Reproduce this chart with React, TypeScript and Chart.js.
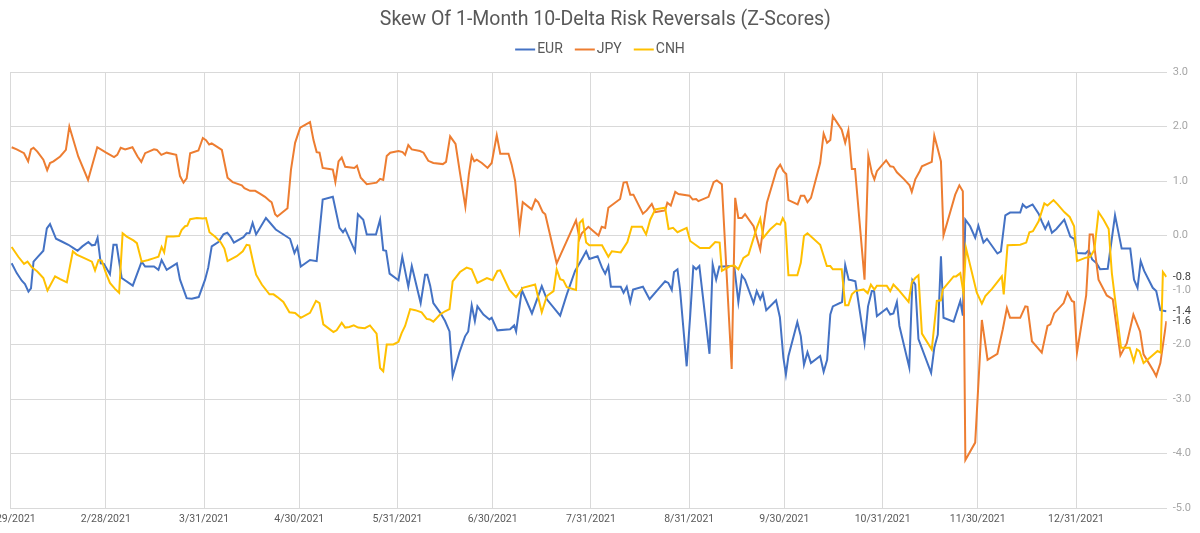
import React, { useEffect, useRef } from "react";
import { Chart, registerables } from "chart.js";

Chart.register(...registerables);

const TITLE = "Skew Of 1-Month 10-Delta Risk Reversals (Z-Scores)";

// x = days since 1/29/2021
const TICK_DAYS = [0, 30, 61, 91, 122, 152, 183, 214, 244, 275, 305, 336];
const TICK_LABELS = [
  "1/29/2021", "2/28/2021", "3/31/2021", "4/30/2021", "5/31/2021", "6/30/2021",
  "7/31/2021", "8/31/2021", "9/30/2021", "10/31/2021", "11/30/2021", "12/31/2021",
];
const Y_TICKS = [-5, -4, -3, -2, -1, 0, 1, 2, 3];
const X_LAST_DAY = 364.6;

const EUR_POINTS = [
  [0.3, -0.51], [1.9, -0.69], [3.5, -0.83], [4.5, -0.89], [5.6, -1.03], [6.4, -0.97], [7.2, -0.48],
  [8.4, -0.4], [10.3, -0.28], [11.4, 0.13], [12.4, 0.21], [14.3, -0.06], [16.1, -0.11], [18.2, -0.17],
  [19.8, -0.23], [21.1, -0.28], [22.6, -0.2], [24.5, -0.12], [25.6, -0.18], [26.6, -0.17], [27.4, -0.04],
  [28.4, -0.51], [29.4, -0.52], [31.3, -0.71], [32.4, -0.17], [33.4, -0.17], [35.0, -0.78], [38.5, -0.92],
  [41.3, -0.48], [42.4, -0.57], [45.2, -0.57], [46.6, -0.63], [47.6, -0.45], [49.2, -0.63], [52.4, -0.51],
  [53.4, -0.81], [55.5, -1.15], [57.1, -1.16], [59.3, -1.13], [61.3, -0.81], [62.3, -0.59], [63.4, -0.2],
  [65.5, -0.12], [67.1, 0.02], [68.3, 0.05], [69.2, -0.01], [70.4, -0.13], [73.4, -0.03], [74.4, 0.04],
  [75.3, 0.04], [76.3, 0.23], [77.4, 0.02], [80.5, 0.32], [83.6, 0.11], [86.5, 0.0], [88.1, -0.06],
  [89.5, -0.32], [90.4, -0.21], [91.5, -0.57], [94.4, -0.45], [96.5, -0.47], [98.4, 0.66], [101.6, 0.71],
  [103.7, 0.14], [104.8, 0.06], [105.5, 0.12], [108.6, -0.29], [109.5, 0.39], [111.2, 0.29], [112.3, 0.02],
  [115.2, 0.02], [116.5, 0.29], [117.5, -0.27], [118.4, -0.28], [119.5, -0.7], [122.3, -0.82], [123.5, -0.39],
  [125.4, -0.94], [126.5, -0.56], [129.3, -1.24], [130.7, -0.72], [131.4, -0.72], [132.3, -0.92], [133.3, -1.24],
  [135.4, -1.41], [137.0, -1.57], [138.4, -1.76], [139.4, -2.58], [141.5, -2.15], [143.3, -1.85], [144.3, -1.76],
  [145.4, -1.28], [146.4, -1.57], [147.2, -1.3], [149.1, -1.45], [151.0, -1.54], [151.7, -1.51], [153.5, -1.74],
  [157.5, -1.72], [158.8, -1.65], [159.4, -1.76], [161.2, -1.0], [164.4, -1.43], [167.5, -0.93], [169.1, -1.17],
  [173.3, -1.47], [175.4, -1.08], [178.0, -0.65], [179.6, -0.49], [181.5, -0.29], [182.5, -0.43], [185.1, -0.38],
  [186.5, -0.59], [187.5, -0.7], [188.5, -0.56], [189.3, -0.94], [192.4, -0.94], [193.3, -1.05], [194.3, -0.94],
  [195.4, -1.22], [196.3, -0.99], [199.4, -0.94], [201.5, -1.17], [204.3, -0.98], [206.4, -0.84], [207.4, -0.87],
  [208.5, -1.0], [209.2, -0.67], [210.3, -0.62], [211.1, -0.99], [213.2, -2.4], [214.3, -1.48], [215.3, -0.57],
  [216.2, -0.62], [217.2, -0.56], [220.4, -2.17], [221.4, -0.53], [222.5, -0.81], [223.5, -0.57], [224.8, -0.57],
  [226.9, -0.56], [228.2, -0.56], [229.5, -1.22], [230.6, -0.73], [231.6, -0.81], [234.3, -1.24], [235.3, -1.02],
  [236.4, -1.17], [237.2, -1.06], [238.3, -1.37], [241.4, -1.19], [242.6, -1.5], [243.7, -2.24], [244.5, -2.55],
  [245.3, -2.21], [248.1, -1.59], [249.2, -1.85], [250.2, -2.37], [251.3, -2.14], [252.4, -2.34], [255.3, -2.21],
  [256.4, -2.5], [257.5, -2.28], [258.5, -1.45], [259.3, -1.3], [262.2, -1.22], [263.2, -0.54], [264.3, -0.81],
  [265.3, -0.82], [266.4, -0.84], [269.3, -1.97], [270.4, -1.3], [271.6, -1.02], [272.3, -1.02], [273.2, -1.48],
  [276.3, -1.34], [277.4, -1.45], [278.4, -1.43], [279.5, -1.22], [280.3, -1.66], [283.4, -2.42], [284.4, -0.82],
  [285.3, -0.9], [286.3, -1.9], [290.3, -2.52], [291.3, -2.06], [292.4, -1.82], [293.4, -0.38], [294.2, -1.51],
  [297.4, -1.58], [299.5, -1.2], [300.3, -1.47], [301.1, 0.29], [302.6, 0.17], [304.2, -0.04], [305.2, 0.18],
  [306.8, -0.13], [307.9, -0.06], [311.2, -0.33], [312.3, -0.29], [313.7, 0.37], [315.2, 0.42], [318.4, 0.42],
  [319.2, 0.57], [320.3, 0.51], [322.3, 0.57], [324.2, 0.4], [325.2, 0.26], [326.3, 0.12], [327.3, 0.24],
  [328.4, 0.05], [329.8, 0.12], [332.3, 0.29], [334.2, -0.02], [335.4, -0.06], [336.3, -0.32], [339.0, -0.33],
  [340.0, -0.27], [341.1, -0.44], [342.5, -0.51], [343.6, -0.62], [346.0, -0.61], [348.3, 0.37], [350.4, -0.24],
  [353.1, -0.24], [354.3, -0.81], [355.4, -0.96], [356.4, -0.47], [357.5, -0.65], [360.2, -0.96], [361.3, -1.02],
  [362.6, -1.37], [364.5, -1.39],
];

const JPY_POINTS = [
  [0.3, 1.62], [1.9, 1.58], [4.2, 1.51], [5.5, 1.36], [6.4, 1.58], [7.2, 1.61], [8.4, 1.54], [10.3, 1.39],
  [11.5, 1.2], [12.4, 1.33], [13.5, 1.36], [15.6, 1.45], [17.4, 1.57], [18.5, 2.0], [21.3, 1.45], [24.4, 1.02],
  [27.3, 1.62], [30.1, 1.52], [32.6, 1.44], [33.6, 1.48], [34.7, 1.61], [36.1, 1.58], [38.4, 1.62], [40.0, 1.45],
  [41.2, 1.35], [42.4, 1.51], [45.2, 1.58], [46.1, 1.57], [47.5, 1.48], [49.2, 1.52], [52.2, 1.48], [53.4, 1.09],
  [54.5, 0.97], [55.5, 1.05], [56.6, 1.51], [59.2, 1.56], [60.6, 1.79], [61.6, 1.75], [62.6, 1.67], [63.4, 1.69],
  [65.0, 1.63], [66.6, 1.57], [68.4, 1.06], [70.0, 0.98], [72.9, 0.92], [73.7, 0.87], [75.5, 0.82], [77.1, 0.82],
  [78.6, 0.77], [80.2, 0.71], [81.8, 0.63], [82.3, 0.61], [83.4, 0.39], [84.1, 0.35], [87.3, 0.5], [88.4, 1.21],
  [89.7, 1.7], [91.3, 1.98], [94.4, 2.08], [95.5, 1.75], [96.5, 1.53], [97.4, 1.52], [98.4, 1.24], [100.5, 1.22],
  [101.6, 1.21], [102.4, 0.98], [103.4, 1.36], [104.4, 1.43], [105.5, 1.26], [108.4, 1.24], [109.2, 1.28],
  [110.4, 1.06], [112.3, 0.94], [115.4, 0.97], [116.5, 1.04], [117.5, 1.02], [118.6, 1.46], [119.7, 1.52],
  [122.3, 1.55], [123.6, 1.53], [124.4, 1.48], [125.4, 1.66], [126.5, 1.58], [129.1, 1.55], [130.2, 1.52],
  [131.7, 1.37], [133.3, 1.33], [136.3, 1.31], [137.3, 1.35], [138.6, 1.82], [140.3, 1.68], [141.7, 1.15],
  [143.4, 0.53], [144.5, 1.12], [145.4, 1.46], [146.2, 1.36], [147.0, 1.39], [148.6, 1.33], [150.4, 1.24],
  [151.7, 1.33], [153.3, 1.84], [154.4, 1.5], [157.0, 1.5], [158.0, 1.3], [159.1, 1.0], [160.5, 0.12],
  [161.5, 0.61], [164.3, 0.48], [165.5, 0.66], [166.4, 0.61], [167.8, 0.43], [168.6, 0.39], [172.2, -0.51],
  [175.4, -0.1], [178.3, 0.28], [179.4, -0.06], [180.1, 0.04], [182.2, 0.16], [183.8, 0.08], [185.4, 0.0],
  [186.4, 0.16], [187.5, 0.14], [188.5, 0.51], [192.2, 0.67], [193.3, 0.97], [194.3, 0.98], [195.4, 0.75],
  [196.4, 0.75], [199.4, 0.4], [200.6, 0.46], [202.2, 0.58], [203.3, 0.43], [206.4, 0.46], [207.1, 0.6],
  [208.2, 0.55], [209.6, 0.8], [210.6, 0.76], [214.1, 0.73], [215.1, 0.66], [216.2, 0.67], [216.9, 0.63],
  [220.1, 0.71], [221.7, 0.98], [222.7, 1.01], [224.3, 0.94], [227.4, -2.45], [228.5, 0.69], [229.5, 0.32],
  [230.6, 0.32], [231.6, 0.39], [234.3, 0.17], [236.4, -0.26], [238.5, 0.6], [241.6, 1.21], [242.7, 1.3],
  [243.7, 1.18], [244.6, 1.13], [245.3, 0.65], [248.2, 0.57], [249.2, 0.73], [250.3, 0.73], [251.3, 0.61],
  [252.4, 0.69], [255.3, 1.33], [256.4, 1.87], [257.5, 1.7], [258.5, 1.75], [259.3, 2.19], [262.1, 1.94],
  [263.2, 1.7], [264.2, 1.93], [265.3, 1.22], [266.3, 1.22], [269.3, -0.81], [270.5, 1.46], [271.6, 1.15],
  [272.4, 1.03], [273.2, 1.18], [276.1, 1.38], [277.4, 1.27], [278.4, 1.26], [279.5, 1.16], [281.8, 1.03],
  [283.5, 0.92], [284.2, 0.8], [285.3, 1.03], [286.7, 1.18], [287.4, 1.27], [290.5, 1.35], [291.3, 1.83],
  [292.3, 1.61], [293.4, 1.36], [294.2, 0.0], [297.9, 0.75], [299.2, 0.92], [300.3, 0.81], [301.1, -4.12],
  [304.2, -3.8], [306.3, -1.55], [308.1, -2.28], [311.2, -2.17], [312.9, -1.72], [314.2, -1.33], [315.2, -1.51],
  [318.4, -1.51], [320.0, -1.3], [320.7, -1.31], [322.1, -1.94], [325.2, -2.15], [327.0, -1.66], [327.9, -1.63],
  [329.1, -1.43], [332.1, -1.24], [333.3, -1.04], [334.7, -1.2], [335.4, -1.22], [336.3, -2.15], [339.2, -1.1],
  [340.3, 0.02], [341.3, 0.02], [343.1, -0.81], [345.7, -1.1], [347.6, -1.17], [350.0, -2.2], [352.0, -1.98],
  [354.1, -1.45], [356.2, -1.76], [357.3, -2.18], [360.5, -2.49], [361.3, -2.58], [362.6, -2.34], [364.5, -1.57],
];

const CNH_POINTS = [
  [0.3, -0.21], [2.4, -0.39], [4.2, -0.52], [5.3, -0.48], [6.6, -0.58], [8.4, -0.66], [10.3, -0.78],
  [11.6, -1.01], [14.0, -0.75], [15.6, -0.8], [17.7, -0.86], [19.6, -0.29], [20.8, -0.35], [23.4, -0.42],
  [25.6, -0.48], [26.6, -0.64], [27.7, -0.45], [28.7, -0.46], [30.1, -0.7], [31.3, -0.87], [32.9, -0.98],
  [34.2, -1.05], [35.3, 0.04], [36.6, -0.02], [38.7, -0.09], [39.8, -0.14], [41.3, -0.48], [43.4, -0.45],
  [45.0, -0.42], [46.6, -0.39], [47.6, -0.21], [48.4, -0.31], [49.2, -0.02], [51.3, -0.02], [53.1, -0.01],
  [53.9, 0.1], [55.0, 0.17], [55.7, 0.18], [56.6, 0.3], [58.7, 0.32], [60.6, 0.31], [61.6, 0.32], [62.7, 0.06],
  [64.4, -0.02], [66.2, -0.12], [67.4, -0.24], [68.4, -0.47], [71.3, -0.38], [73.2, -0.29], [74.4, -0.17],
  [75.3, -0.18], [76.5, -0.5], [77.4, -0.72], [79.2, -0.9], [81.6, -1.08], [82.9, -1.08], [84.1, -1.13],
  [86.0, -1.22], [87.9, -1.41], [89.7, -1.42], [91.5, -1.51], [94.4, -1.42], [96.3, -1.2], [97.4, -1.24],
  [98.6, -1.63], [101.8, -1.77], [102.8, -1.74], [104.4, -1.6], [105.5, -1.69], [106.8, -1.68], [108.2, -1.65],
  [109.6, -1.69], [111.7, -1.7], [113.3, -1.65], [115.4, -1.8], [116.5, -2.43], [117.5, -2.49], [118.6, -2.0],
  [120.7, -2.0], [122.3, -1.95], [123.3, -1.79], [124.4, -1.66], [126.0, -1.35], [127.6, -1.37], [129.6, -1.41],
  [131.2, -1.53], [132.2, -1.54], [133.3, -1.58], [135.4, -1.45], [137.0, -1.39], [138.4, -1.35], [139.4, -0.84],
  [141.7, -0.67], [143.8, -0.59], [145.4, -0.62], [147.2, -0.87], [150.2, -0.78], [152.0, -0.82], [153.5, -0.65],
  [154.4, -0.64], [157.3, -1.0], [159.4, -1.13], [161.5, -0.96], [165.4, -0.9], [167.5, -1.41], [169.1, -1.11],
  [171.2, -1.02], [172.2, -0.62], [173.3, -0.8], [174.3, -0.82], [175.4, -0.95], [178.3, -1.0], [179.4, 0.23],
  [180.4, 0.29], [181.5, -0.13], [182.5, -0.18], [186.5, -0.18], [188.5, -0.39], [189.6, -0.29], [192.4, -0.31],
  [194.5, -0.12], [195.9, 0.16], [199.1, 0.16], [200.4, 0.02], [201.7, 0.29], [203.3, 0.48], [206.4, 0.51],
  [207.5, 0.12], [208.9, 0.14], [210.3, 0.06], [213.2, 0.14], [214.3, -0.1], [217.4, -0.23], [220.4, -0.23],
  [222.2, -0.12], [223.6, -0.13], [224.3, -0.65], [226.9, -0.56], [228.2, -0.55], [229.5, -0.62], [231.1, -0.41],
  [232.7, -0.35], [235.3, 0.14], [236.4, 0.31], [237.4, -0.04], [239.5, 0.11], [241.6, 0.22], [242.7, 0.2],
  [243.5, 0.32], [244.3, 0.23], [245.3, -0.73], [248.1, -0.73], [249.2, -0.5], [250.2, -0.01], [251.3, 0.04],
  [255.3, -0.17], [257.4, -0.56], [258.5, -0.56], [259.3, -0.62], [262.1, -0.62], [263.2, -1.28], [264.2, -1.28],
  [265.3, -1.08], [266.4, -1.02], [269.0, -0.99], [270.3, -1.06], [271.3, -0.9], [272.4, -0.99], [273.2, -0.92],
  [276.3, -0.92], [277.4, -1.02], [278.4, -0.9], [279.9, -0.99], [283.2, -1.22], [284.2, -0.86], [285.3, -0.78],
  [286.3, -0.73], [287.4, -1.8], [290.5, -2.09], [292.1, -1.2], [293.4, -1.19], [294.0, -0.99], [297.4, -0.75],
  [298.2, -0.75], [299.5, -0.69], [300.5, -1.05], [301.3, -0.23], [304.7, -1.05], [306.3, -1.25], [307.4, -1.11],
  [309.5, -0.98], [312.6, -0.75], [313.2, -1.08], [314.4, -0.18], [318.4, -0.17], [320.3, -0.13], [321.3, 0.06],
  [322.4, 0.08], [324.2, 0.26], [326.0, 0.59], [327.0, 0.55], [328.9, 0.65], [330.2, 0.57], [332.3, 0.43],
  [334.0, 0.34], [335.4, 0.17], [336.3, -0.47], [338.9, -0.41], [340.5, -0.39], [341.8, -0.26], [343.1, 0.43],
  [344.7, 0.29], [346.3, 0.12], [347.3, -0.69], [350.2, -2.06], [352.9, -2.06], [354.2, -2.31], [355.2, -2.09],
  [356.0, -2.12], [357.3, -2.34], [359.9, -2.21], [361.7, -2.12], [362.7, -2.15], [363.4, -0.67], [364.5, -0.76],
];

const SERIES_NAMES = ["EUR", "JPY", "CNH"];
const SERIES_POINTS = [EUR_POINTS, JPY_POINTS, CNH_POINTS];
const SERIES_COLORS = ["#4472C4", "#ED7D31", "#FFC000"];
const SERIES_ORDER = [3, 2, 1];

const FONT = "Roboto, 'DejaVu Sans', sans-serif";

const lineLegendPlugin = {
  id: "lineLegend",
  afterDraw(chart: any) {
    const { ctx } = chart;
    ctx.save();
    ctx.font = `14px ${FONT}`;
    const lineW = 20;
    const gap = 2;
    const itemGap = 12;
    const items = chart.data.datasets.map((ds: any) => ({
      label: ds.label,
      color: ds.borderColor,
      w: lineW + gap + ctx.measureText(ds.label).width,
    }));
    const total = items.reduce((s: number, it: any) => s + it.w, 0) + itemGap * (items.length - 1);
    let x = chart.width / 2 - total / 2;
    const y = 49.5;
    ctx.textBaseline = "middle";
    ctx.textAlign = "left";
    items.forEach((it: any) => {
      ctx.strokeStyle = it.color;
      ctx.lineWidth = 2;
      ctx.beginPath();
      ctx.moveTo(x, y);
      ctx.lineTo(x + lineW, y);
      ctx.stroke();
      ctx.fillStyle = "#595959";
      ctx.fillText(it.label, x + lineW + gap, y);
      x += it.w + itemGap;
    });
    ctx.restore();
  },
};

const endLabelPlugin = {
  id: "endLabels",
  afterDatasetsDraw(chart: any) {
    const { ctx, chartArea, scales } = chart;
    ctx.save();
    ctx.font = `11px ${FONT}`;
    ctx.fillStyle = "#404040";
    ctx.textAlign = "left";
    ctx.textBaseline = "middle";
    chart.data.datasets.forEach((ds: any) => {
      const last = ds.data[ds.data.length - 1];
      const y = scales.y.getPixelForValue(last.y);
      ctx.fillText(last.y.toFixed(1), chartArea.right + 6, y);
    });
    ctx.restore();
  },
};

export default function App() {
  const ref = useRef<HTMLCanvasElement | null>(null);

  useEffect(() => {
    if (!ref.current) return;
    Chart.defaults.font.family = FONT;
    const chart = new Chart(ref.current, {
      type: "line",
      data: {
        datasets: SERIES_NAMES.map((name, i) => ({
          label: name,
          data: SERIES_POINTS[i].map(([x, y]) => ({ x, y })),
          borderColor: SERIES_COLORS[i],
          backgroundColor: SERIES_COLORS[i],
          borderWidth: 2,
          pointRadius: 0,
          tension: 0,
          fill: false,
          order: SERIES_ORDER[i],
        })),
      },
      options: {
        animation: false,
        responsive: false,
        maintainAspectRatio: false,
        layout: { padding: { left: 10.7, right: 0, top: 0, bottom: 0 } },
        plugins: {
          legend: { display: false },
          tooltip: { enabled: false },
          title: {
            display: true,
            text: TITLE,
            color: "#595959",
            font: { size: 19.5, weight: "normal" as any },
            padding: { top: 8, bottom: 40.6 },
          },
        },
        scales: {
          x: {
            type: "linear",
            min: 0,
            max: X_LAST_DAY,
            afterBuildTicks: (s: any) => {
              s.ticks = TICK_DAYS.map((v) => ({ value: v }));
            },
            afterFit: (s: any) => {
              s.paddingLeft = 0;
              s.paddingRight = 0;
              s.height = 25;
            },
            ticks: {
              autoSkip: false,
              maxRotation: 0,
              minRotation: 0,
              padding: 5,
              color: "#595959",
              font: { size: 10.5 },
              callback: (v: any) => {
                const i = TICK_DAYS.indexOf(Number(v));
                return i >= 0 ? TICK_LABELS[i] : "";
              },
            },
            grid: { color: "#d9d9d9", drawTicks: false },
            border: { color: "#d9d9d9" },
          },
          y: {
            position: "right",
            min: -5,
            max: 3,
            afterBuildTicks: (s: any) => {
              s.ticks = Y_TICKS.map((v) => ({ value: v }));
            },
            afterFit: (s: any) => {
              s.width = 33.3;
            },
            ticks: {
              padding: 6,
              color: "#a6a6a6",
              font: { size: 11 },
              callback: (v: any) => Number(v).toFixed(1),
            },
            grid: { color: "#d9d9d9", drawTicks: false },
            border: { display: false },
          },
        },
      },
      plugins: [lineLegendPlugin, endLabelPlugin],
    } as any);
    return () => chart.destroy();
  }, []);

  return (
    <div style={{ position: "absolute", left: 0, top: 0, width: 1200, height: 533, background: "#ffffff" }}>
      <canvas ref={ref} width={1200} height={533} style={{ display: "block", width: 1200, height: 533 }} />
    </div>
  );
}
